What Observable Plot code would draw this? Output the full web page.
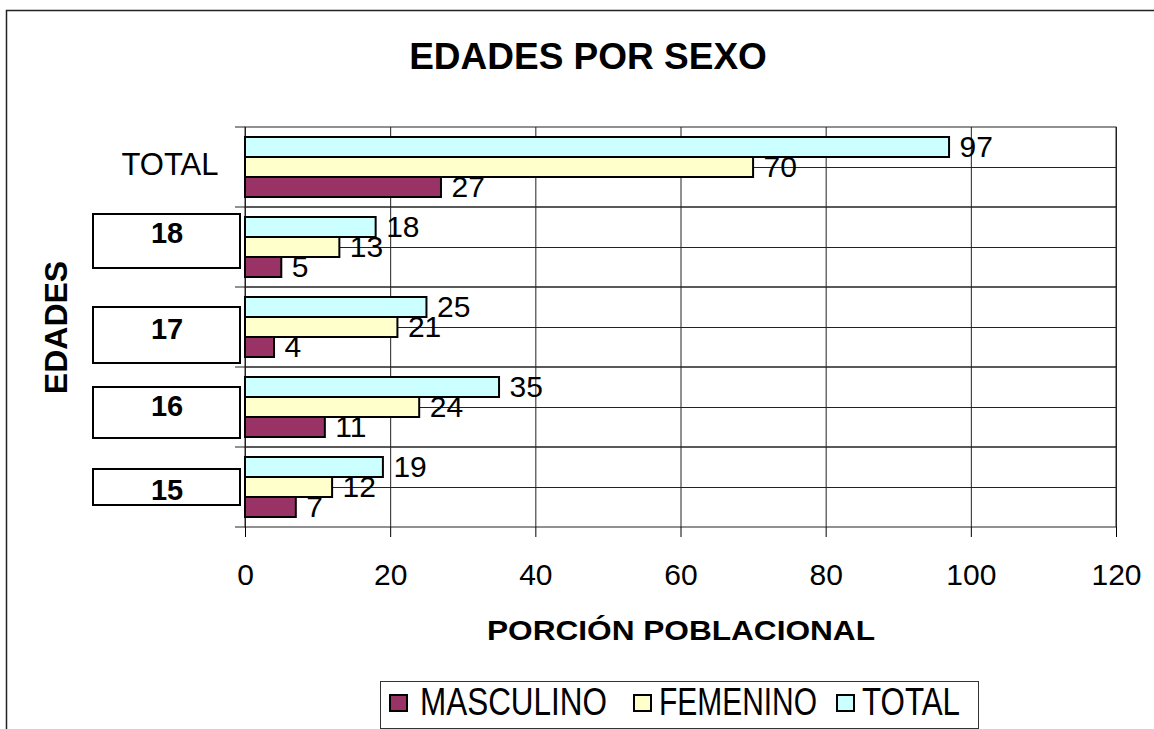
<!DOCTYPE html>
<html>
<head>
<meta charset="utf-8">
<script src="https://cdn.jsdelivr.net/npm/d3@7"></script>
<script src="https://cdn.jsdelivr.net/npm/@observablehq/plot@0.6"></script>
<style>
  html, body { margin: 0; padding: 0; background: #fff; overflow: hidden; }
  #chart { position: relative; width: 1154px; height: 729px; }
</style>
</head>
<body>
<div id="chart"></div>
<script>
// ---- data ----
const categories = ["TOTAL", "18", "17", "16", "15"];
const masculino = [27, 5, 4, 11, 7];
const femenino  = [70, 13, 21, 24, 12];
const total     = [97, 18, 25, 35, 19];
const seriesNames = ["MASCULINO", "FEMENINO", "TOTAL"];
const xTicks = [0, 20, 40, 60, 80, 100, 120];
const xDomain = [0, 120];
const title = "EDADES POR SEXO";
const xTitle = "PORCIÓN POBLACIONAL";
const yTitle = "EDADES";

// ---- styles ----
const FONT = "'Liberation Sans', Arial, Helvetica, sans-serif";
const colors = {MASCULINO: "#993366", FEMENINO: "#FFFFCC", TOTAL: "#CCFFFF"};
const slot = {
  TOTAL:     {top: 10, bottom: 50, dy: -20},
  FEMENINO:  {top: 30, bottom: 30, dy: 0},
  MASCULINO: {top: 50, bottom: 10, dy: 20}
};
const catStyle = {
  "TOTAL": {dy: -2},
  "18": {dy: -14, boxTop: -33, boxBottom: 21},
  "17": {dy: 2,   boxTop: -20, boxBottom: 36},
  "16": {dy: -1,  boxTop: -20, boxBottom: 31},
  "15": {dy: 3,   boxTop: -18, boxBottom: 18}
};
const values = {MASCULINO: masculino, FEMENINO: femenino, TOTAL: total};
const rows = s => categories.map((c, i) => ({cat: c, value: values[s][i], series: s}));

const barMarks = seriesNames.map(s =>
  Plot.barX(rows(s), {
    x: "value", y: "cat",
    insetTop: slot[s].top, insetBottom: slot[s].bottom,
    fill: colors[s], stroke: "#000", strokeWidth: 2
  })
);
const valueLabels = seriesNames.map(s =>
  Plot.text(rows(s), {
    x: "value", y: "cat", text: d => String(d.value),
    dx: 10, dy: slot[s].dy, textAnchor: "start", lineAnchor: "middle",
    fontSize: 30, fill: "#000"
  })
);
const catLabels = categories.map(c => c === "TOTAL"
  ? Plot.text([c], {y: d => d, text: d => d, frameAnchor: "left", dx: -27, dy: catStyle[c].dy,
      textAnchor: "end", lineAnchor: "middle", fontSize: 31, fill: "#000"})
  : Plot.text([c], {y: d => d, text: d => d, frameAnchor: "left", dx: -78.5, dy: catStyle[c].dy,
      textAnchor: "middle", lineAnchor: "middle", fontSize: 29, fontWeight: "bold", fill: "#000"})
);

const plot = Plot.plot({
  width: 1154,
  height: 729,
  marginLeft: 245,
  marginRight: 38,
  marginTop: 127,
  marginBottom: 202,
  style: {fontFamily: FONT, background: "transparent", color: "#000"},
  x: {domain: xDomain},
  y: {domain: categories, padding: 0, axis: null},
  marks: [
    Plot.gridX({ticks: xTicks, stroke: "#222", strokeOpacity: 1, strokeWidth: 1}),
    Plot.gridY({stroke: "#222", strokeOpacity: 1, strokeWidth: 1}),
    Plot.barX(categories, {y: d => d, x1: xDomain[0], x2: xDomain[1], fill: "none", stroke: "#222", strokeWidth: 1}),
    ...barMarks,
    ...valueLabels,
    Plot.axisX({ticks: xTicks, tickSize: 10, tickPadding: 26, fontSize: 30, label: null, stroke: "#000"}),
    ...catLabels,
    Plot.text([title], {frameAnchor: "top", dx: -93, dy: -70, textAnchor: "middle", lineAnchor: "middle",
      fontSize: 37, fontWeight: "bold", fill: "#000"}),
    Plot.text([xTitle], {frameAnchor: "bottom", dy: 104, textAnchor: "middle", lineAnchor: "middle",
      fontSize: 28, fontWeight: "bold", fill: "#000"}),
    Plot.text([yTitle], {frameAnchor: "left", dx: -189, rotate: -90, textAnchor: "middle", lineAnchor: "middle",
      fontSize: 32, fontWeight: "bold", fill: "#000"})
  ]
});

document.getElementById("chart").appendChild(plot);

// ---- decorations drawn from the plot's own scales ----
const svg = d3.select(plot);
const yScale = plot.scale("y");
const xScale = plot.scale("x");
const bw = yScale.bandwidth;
const x0 = xScale.apply(xDomain[0]);

// stretch x title to match reference width
svg.selectAll("text").filter(function() { return this.textContent === xTitle; })
  .attr("textLength", 388).attr("lengthAdjust", "spacingAndGlyphs");

// left tick marks at band edges
const edges = categories.map(c => yScale.apply(c)).concat([yScale.apply(categories[categories.length - 1]) + bw]);
const deco = svg.append("g");
deco.selectAll("line.tk").data(edges).join("line")
  .attr("x1", x0 - 10).attr("x2", x0).attr("y1", d => d).attr("y2", d => d)
  .attr("stroke", "#222").attr("stroke-width", 1);

// boxes round the numeric category labels
deco.selectAll("rect.box").data(categories.filter(c => c !== "TOTAL")).join("rect")
  .attr("x", x0 - 152).attr("width", 147)
  .attr("y", c => yScale.apply(c) + bw / 2 + catStyle[c].boxTop)
  .attr("height", c => catStyle[c].boxBottom - catStyle[c].boxTop)
  .attr("fill", "none").attr("stroke", "#000").attr("stroke-width", 2);

// outer chart border (top and left edges visible)
deco.append("path").attr("d", "M6.5,729V10.5H1154").attr("fill", "none")
  .attr("stroke", "#222").attr("stroke-width", 1.5);

// legend
const legendItems = [
  {name: "MASCULINO", sq: 10, tx: 40, w: 187},
  {name: "FEMENINO",  sq: 254, tx: 279, w: 158},
  {name: "TOTAL",     sq: 457, tx: 482, w: 98}
];
const lg = svg.append("g").attr("transform", "translate(380,681)");
lg.append("rect").attr("x", 0.5).attr("y", 0.5).attr("width", 598).attr("height", 47)
  .attr("fill", "#fff").attr("stroke", "#333").attr("stroke-width", 1);
lg.selectAll("rect.sq").data(legendItems).join("rect")
  .attr("x", d => d.sq).attr("y", 14).attr("width", 17).attr("height", 16)
  .attr("fill", d => colors[d.name]).attr("stroke", "#000").attr("stroke-width", 2);
lg.selectAll("text").data(legendItems).join("text")
  .attr("x", d => d.tx).attr("y", 34)
  .attr("text-anchor", "start")
  .attr("textLength", d => d.w).attr("lengthAdjust", "spacingAndGlyphs")
  .attr("font-family", FONT).attr("font-size", 38).attr("fill", "#000")
  .text(d => d.name);
</script>
</body>
</html>
